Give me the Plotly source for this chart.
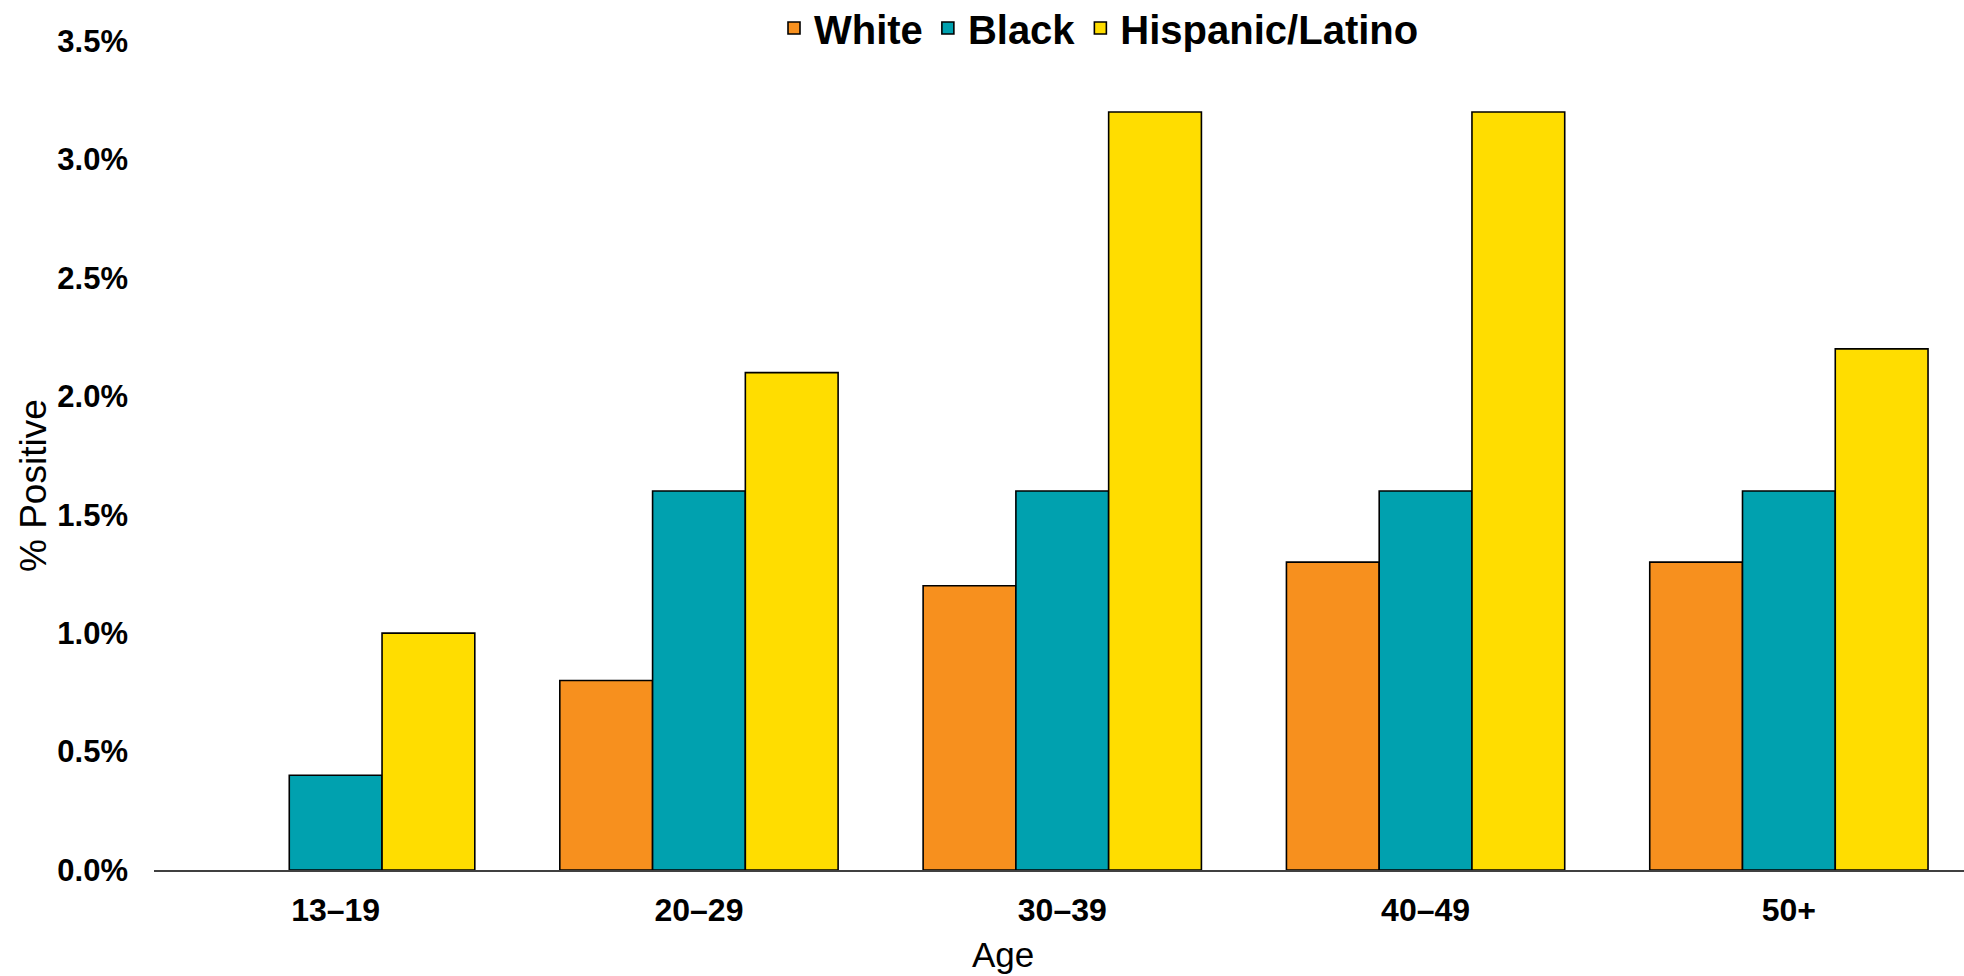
import plotly.graph_objects as go

ages = ["13–19", "20–29", "30–39", "40–49", "50+"]
white = [None, 0.8, 1.2, 1.3, 1.3]
black = [0.4, 1.6, 1.6, 1.6, 1.6]
hispanic = [1.0, 2.1, 3.2, 3.2, 2.2]
series_names = ["White", "Black", "Hispanic/Latino"]
colors = ["#F7901E", "#00A1AF", "#FFDD00"]
y_ticks = [0, 0.5, 1.0, 1.5, 2.0, 2.5, 3.0, 3.5]
y_ticklabels = ["0.0%", "0.5%", "1.0%", "1.5%", "2.0%", "2.5%", "3.0%", "3.5%"]

W, H = 1964, 976
L, T, B = 154, 41, H - 870
PW, PH = W - L, H - T - B

fig = go.Figure()
for name, vals, col in zip(series_names, [white, black, hispanic], colors):
    fig.add_trace(go.Bar(
        x=ages, y=vals, name=name,
        marker=dict(color=col, line=dict(color="black", width=1.6)),
    ))

fig.update_layout(
    width=W, height=H,
    barmode="group", bargap=0.234, bargroupgap=0,
    plot_bgcolor="white", paper_bgcolor="white",
    margin=dict(l=L, r=0, t=T, b=B, pad=0, autoexpand=False),
    showlegend=True,
    legend=dict(
        orientation="h", xref="container", yref="container",
        x=1099 / W, xanchor="center", y=1 - 28 / H, yanchor="middle",
        font=dict(family="Liberation Sans, Arial, sans-serif", size=40, color="black", weight="bold"),
        tracegroupgap=0, bgcolor="rgba(0,0,0,0)",
    ),
    font=dict(family="Liberation Sans, Arial, sans-serif", color="black"),
)
fig.update_xaxes(
    range=[-0.5, 4.482],
    showline=True, linecolor="#404040", linewidth=2,
    showgrid=False, zeroline=False,
    ticks="", ticklabelstandoff=11,
    tickfont=dict(family="Liberation Sans, Arial, sans-serif", size=32, color="black", weight="bold"),
)
fig.update_yaxes(
    range=[0, 3.5],
    tickvals=y_ticks, ticktext=y_ticklabels,
    showline=False, showgrid=False, zeroline=False,
    ticks="", ticklabelstandoff=25,
    tickfont=dict(family="Liberation Sans, Arial, sans-serif", size=31, color="black", weight="bold"),
)
fig.add_annotation(
    text="% Positive", textangle=-90,
    xref="paper", yref="paper", x=-(154 - 34) / PW, y=1 - (486 - 41) / PH,
    xanchor="center", yanchor="middle", showarrow=False,
    font=dict(family="Liberation Sans Narrow, Arial Narrow, Liberation Sans, sans-serif", size=37, color="black"),
)
fig.add_annotation(
    text="Age", xref="paper", yref="paper",
    x=(1003 - 154) / PW, y=-(954 - 870) / PH,
    xanchor="center", yanchor="middle", showarrow=False,
    font=dict(family="Liberation Sans, Arial, sans-serif", size=35, color="black"),
)
fig.write_html("out.html", config={"displayModeBar": False},
               post_script="document.body.style.margin='0';")
